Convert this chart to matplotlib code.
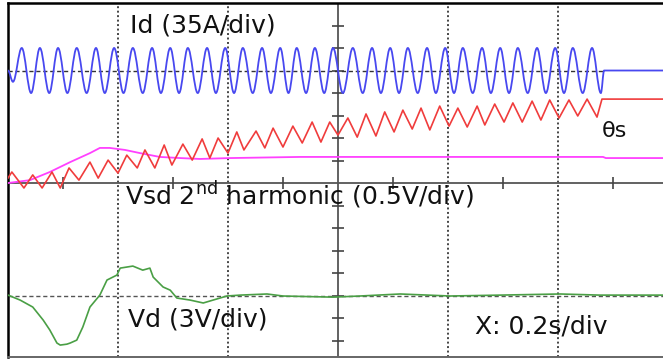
import matplotlib
matplotlib.use("Agg")
import matplotlib.pyplot as plt
from matplotlib.path import Path
from matplotlib.patches import PathPatch

# ---- data (time in ms, 0.2 s/div ; amplitude in screen divisions) ----
t_end = 1191

# Id (blue): peak / trough times and levels
id_peak_t = [25, 58, 91, 125, 160, 193, 227, 262, 295, 327, 362, 395, 427, 462, 495, 525,
             558, 591, 627, 662, 695, 727, 762, 795, 827, 862, 895, 927, 962, 995, 1027, 1062]
id_trough_t = [9, 42, 75, 108, 143, 176, 210, 245, 278, 311, 345, 378, 411, 445, 478, 510, 542,
               575, 609, 645, 678, 711, 745, 778, 811, 845, 878, 911, 945, 978, 1011, 1045, 1078]
id_level = 5.0
id_peak = 6.0
id_trough = 4.0
id_first_dip = 4.5
id_stop_t = 1084

# theta_s (red)
th_t = [0, 7, 29, 45, 62, 80, 95, 111, 129, 149, 164, 182, 200, 216, 235, 249, 267, 284, 298,
        318, 335, 353, 367, 382, 400, 416, 429, 451, 467, 482, 500, 518, 535, 553, 569, 585,
        600, 618, 635, 651, 669, 685, 702, 718, 735, 751, 767, 785, 802, 818, 835, 853, 867,
        885, 902, 918, 935, 953, 969, 985, 1002, 1020, 1036, 1053, 1071, 1080, 1191]
th_v = [0.22, 0.49, -0.22, 0.36, -0.22, 0.49, -0.22, 0.67, 0.13, 0.93, 0.22, 1.02, 0.44, 1.24,
        0.67, 1.47, 0.67, 1.69, 0.80, 1.73, 1.02, 1.96, 1.11, 2.00, 1.33, 2.27, 1.47, 2.31, 1.56,
        2.44, 1.60, 2.53, 1.78, 2.71, 1.82, 2.71, 2.13, 2.89, 2.04, 3.07, 2.09, 3.16, 2.27, 3.24,
        2.40, 3.33, 2.36, 3.42, 2.53, 3.33, 2.49, 3.42, 2.58, 3.51, 2.71, 3.56, 2.71, 3.64, 2.80,
        3.69, 2.89, 3.69, 2.98, 3.73, 2.93, 3.73, 3.73]

# magenta reference
mg_t = [0, 40, 76, 113, 149, 167, 185, 213, 240, 276, 313, 349, 404, 531, 713, 895, 1082, 1087, 1191]
mg_v = [0.0, 0.13, 0.49, 0.93, 1.33, 1.56, 1.56, 1.47, 1.33, 1.16, 1.11, 1.07, 1.11, 1.16,
        1.16, 1.16, 1.16, 1.11, 1.11]

# Vd (green)
vd_t = [0, 22, 45, 64, 76, 89, 95, 107, 113, 125, 136, 149, 167, 180, 198, 204, 227, 245, 258,
        264, 282, 295, 307, 331, 355, 373, 398, 422, 471, 500, 591, 640, 713, 804, 895, 1004,
        1076, 1191]
vd_v = [-4.98, -5.20, -5.51, -6.09, -6.53, -7.11, -7.20, -7.16, -7.11, -6.98, -6.40, -5.51,
        -4.98, -4.31, -4.09, -3.78, -3.69, -3.87, -3.78, -4.18, -4.62, -4.76, -5.11, -5.20,
        -5.33, -5.20, -5.02, -4.98, -4.93, -5.02, -5.07, -5.02, -4.93, -5.02, -4.98, -4.93,
        -4.98, -4.98]
vd_level = -5.0

grid_x = [200, 400, 800, 1000]
center_x = 600
minor_x = [100, 300, 500, 700, 900, 1100]
minor_y = [-7, -6, -5, -4, -3, -2, -1, 1, 2, 3, 4, 5, 6, 7]


def smooth(ax, xs, ys, **kw):
    verts = [(xs[0], ys[0])]
    codes = [Path.MOVETO]
    for i in range(1, len(xs)):
        x0, y0, x1, y1 = xs[i - 1], ys[i - 1], xs[i], ys[i]
        d = (x1 - x0) * 0.364
        verts += [(x0 + d, y0), (x1 - d, y1), (x1, y1)]
        codes += [Path.CURVE4] * 3
    ax.add_patch(PathPatch(Path(verts, codes), fill=False, **kw))


fig = plt.figure(figsize=(6.63, 3.6), dpi=100)
ax = fig.add_axes([8 / 663, 3 / 360, 655 / 663, 354 / 360])
ax.set_xlim(0, t_end)
ax.set_ylim(-7.73, 8.0)
ax.set_xticks([])
ax.set_yticks([])
ax.spines['right'].set_visible(False)
ax.spines['top'].set_color('black')
ax.spines['top'].set_linewidth(1.8)
ax.spines['left'].set_color('black')
ax.spines['left'].set_linewidth(1.8)
ax.spines['bottom'].set_color('#666666')
ax.spines['bottom'].set_linewidth(1.4)

for gx in grid_x:
    ax.axvline(gx, color='#444444', lw=1.4, ls=(0, (1, 1.3)), zorder=1)
ax.axvline(center_x, color='#555555', lw=1.3, zorder=1)
ax.axhline(0, color='#555555', lw=1.3, zorder=1)
ax.plot([center_x] * len(minor_y), minor_y, ls='none', marker='_', ms=8, mew=1.2,
        color='#444444', zorder=1)
ax.plot(minor_x, [0] * len(minor_x), ls='none', marker='|', ms=8, mew=1.2,
        color='#444444', zorder=1)

# dashed zero references
ax.plot([0, id_stop_t], [id_level, id_level], color='#333333', lw=1.0, ls=(0, (3, 2)), zorder=2)
ax.axhline(vd_level, color='#555555', lw=1.0, ls=(0, (3, 2)), zorder=2)

# Id trace
bx = [0, id_trough_t[0]]
by = [id_level, id_first_dip]
for pk, tr in zip(id_peak_t, id_trough_t[1:]):
    bx += [pk, tr]
    by += [id_peak, id_trough]
bx += [id_stop_t, t_end]
by += [id_level, id_level]
smooth(ax, bx, by, color='#4848f0', lw=1.3, zorder=3)

ax.plot(mg_t, mg_v, color='#ff40ff', lw=1.3, zorder=3)
ax.plot(th_t, th_v, color='#f03c3c', lw=1.2, zorder=4)
ax.plot(vd_t, vd_v, color='#4a9f45', lw=1.2, zorder=3)

tk = dict(fontsize=18, color='#111111', ha='left', va='baseline', zorder=6)
ax.text(222, 6.67, 'Id (35A/div)', **tk)
ax.text(213, -0.98, 'Vsd 2$^{\\mathregular{nd}}$ harmonic (0.5V/div)', **tk)
ax.text(218, -6.36, 'Vd (3V/div)', **tk)
ax.text(849, -6.67, 'X: 0.2s/div', **tk)
ax.text(1080, 2.04, 'θs', fontsize=16, color='#111111', ha='left', va='baseline', zorder=6)

fig.savefig('out.png', dpi=100)
